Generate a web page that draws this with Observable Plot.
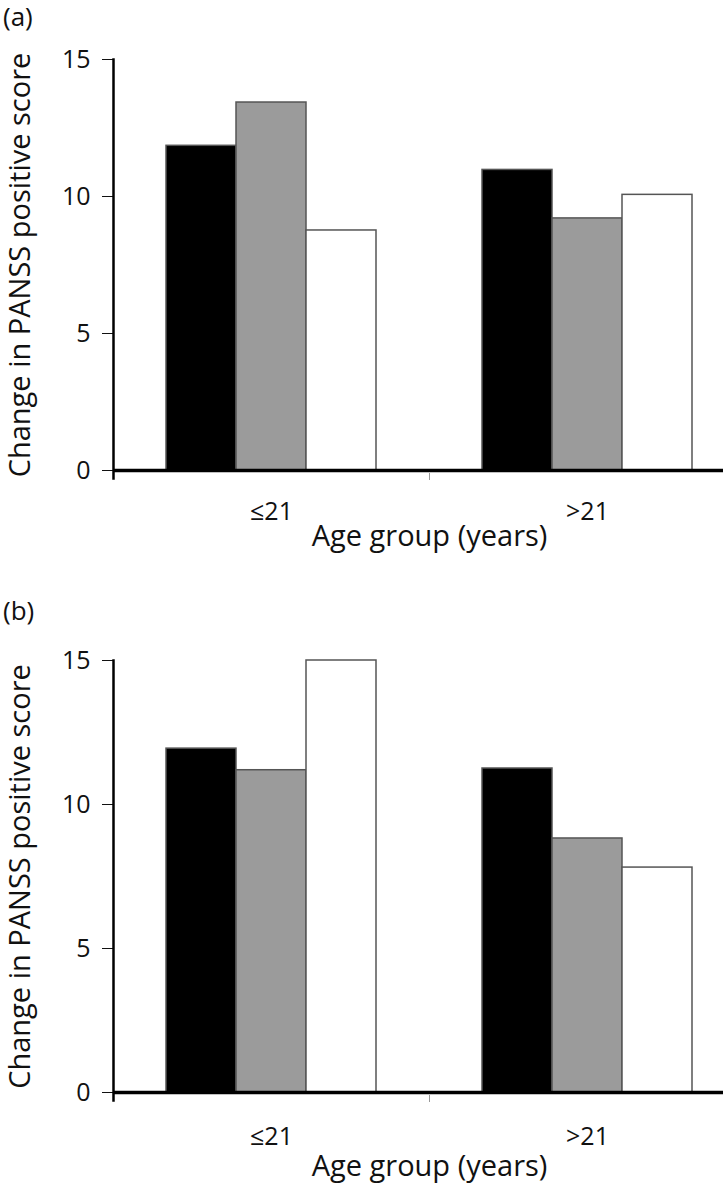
<!DOCTYPE html>
<html>
<head>
<meta charset="utf-8">
<script src="https://cdn.jsdelivr.net/npm/d3@7"></script>
<script src="https://cdn.jsdelivr.net/npm/@observablehq/plot@0.6"></script>
<style>
  html, body { margin: 0; padding: 0; background: white; overflow: hidden; }
  #wrap { position: relative; width: 723px; height: 1187px; font-family: "Open Sans", sans-serif; }
  .panel { position: absolute; left: 0; }
  .tag { position: absolute; left: 3px; font-size: 26px; color: #111; font-family: "Open Sans", sans-serif; line-height: 1.05; }
  svg g[aria-label="y-axis tick"] { stroke: #777; }
  svg g[aria-label="y-axis label"] text, svg g[aria-label="fx-axis label"] text { font-size: 29px; }
</style>
</head>
<body>
<div id="wrap"></div>
<script>
// ---- data ----
const groups = ["≤21", ">21"];
const series = ["Series A", "Series B", "Series C"];
const fills = ["#000000", "#9b9b9b", "#ffffff"];
const yTicks = [0, 5, 10, 15];
const valuesA = { "≤21": [11.85, 13.43, 8.76], ">21": [10.97, 9.20, 10.06] };
const valuesB = { "≤21": [11.94, 11.19, 15.0], ">21": [11.25, 8.82, 7.81] };
const xLabel = "Age group (years)";
const yLabel = "Change in PANSS positive score";

function toRows(vals) {
  return groups.flatMap(g => series.map((s, i) => ({group: g, series: s, value: vals[g][i]})));
}

function panel(vals, cfg) {
  const frameH = cfg.height - cfg.marginTop - cfg.marginBottom;
  return Plot.plot({
    width: 723,
    height: cfg.height,
    marginLeft: 113,
    marginRight: -22,
    marginTop: cfg.marginTop,
    marginBottom: cfg.marginBottom,
    style: {fontFamily: "Open Sans, sans-serif", fontSize: "25px", color: "#111", background: "white", overflow: "visible"},
    fx: {domain: groups, padding: 0, label: xLabel, labelArrow: "none", axis: "bottom", tickSize: 0, tickPadding: cfg.fxPad, labelAnchor: "center", labelOffset: cfg.fxLabelOffset},
    x: {domain: series, paddingInner: 0, paddingOuter: 0.754, axis: null},
    y: {domain: [0, 15], ticks: yTicks, tickSize: 11, tickPadding: 12, label: yLabel, labelArrow: "none", labelAnchor: "center", labelOffset: 104},
    color: {domain: series, range: fills},
    marks: [
      Plot.barY(toRows(vals), {fx: "group", x: "series", y: "value", fill: "series", stroke: "#555", strokeWidth: 1.5}),
      Plot.ruleY([0], {stroke: "#000", strokeWidth: 3.5}),
      // y-axis line (left facet only), running slightly past the baseline
      Plot.frame({anchor: "left", facetAnchor: "left", stroke: "#000", strokeWidth: 2.5, insetBottom: -8}),
      // small tick at the boundary between the two age groups
      Plot.frame({anchor: "left", facetAnchor: "right", stroke: "#999", strokeWidth: 1, insetTop: frameH + 3, insetBottom: -9})
    ]
  });
}

const wrap = document.getElementById("wrap");

const pa = panel(valuesA, {height: 585, marginTop: 59, marginBottom: 115, fxPad: 32, fxLabelOffset: 75});
pa.classList.add("panel"); pa.style.top = "0px";
wrap.appendChild(pa);
const ta = document.createElement("div"); ta.className = "tag"; ta.textContent = "(a)"; ta.style.top = "3px";
wrap.appendChild(ta);

const pb = panel(valuesB, {height: 602, marginTop: 75, marginBottom: 95, fxPad: 35, fxLabelOffset: 83});
pb.classList.add("panel"); pb.style.top = "585px";
wrap.appendChild(pb);
const tb = document.createElement("div"); tb.className = "tag"; tb.textContent = "(b)"; tb.style.top = "597px";
wrap.appendChild(tb);
</script>
</body>
</html>
